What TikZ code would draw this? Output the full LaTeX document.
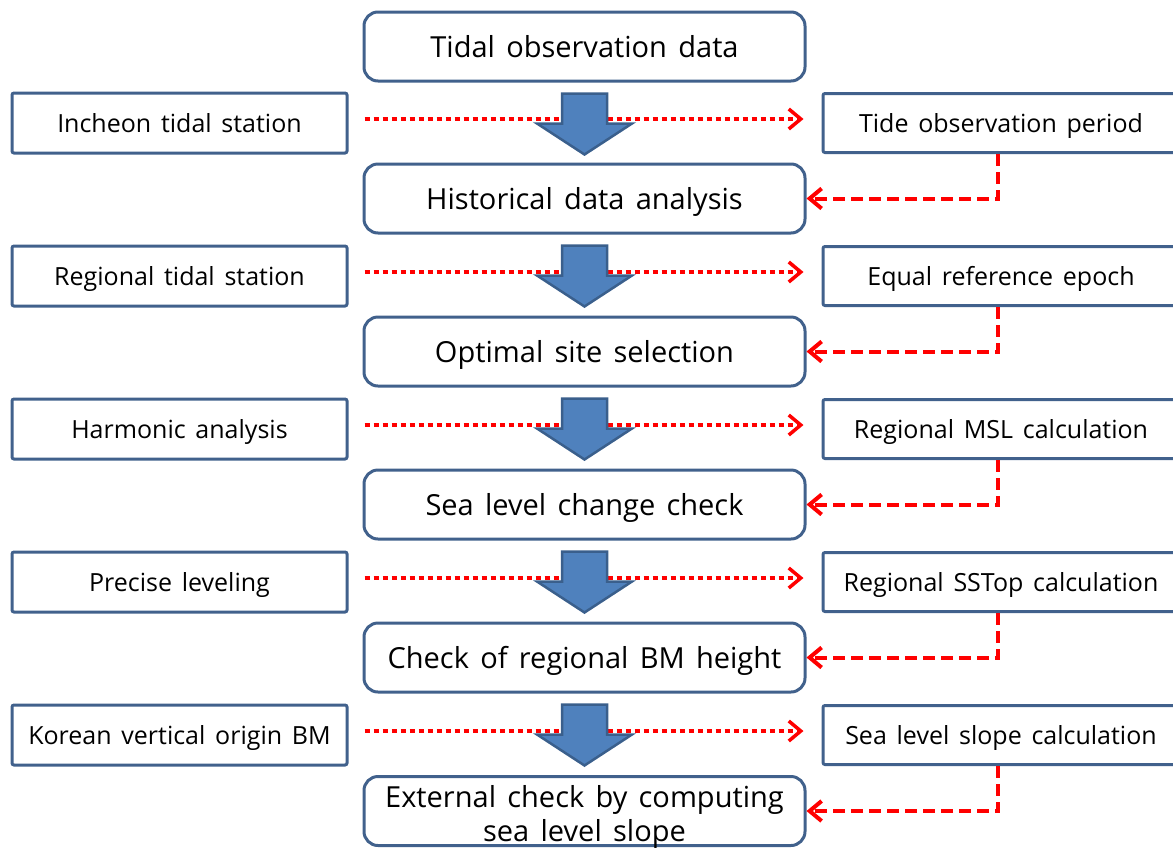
\documentclass[tikz,border=0pt]{standalone}
\usepackage{fontspec}
\setmainfont{Open Sans}[WordSpace=1.5]
\usetikzlibrary{arrows.meta,calc}
\definecolor{boxblue}{HTML}{41618C}
\definecolor{arrowfill}{HTML}{4F81BD}
\definecolor{arrowline}{HTML}{3A5F8C}
\definecolor{linkred}{HTML}{FF0000}
\begin{document}
\begin{tikzpicture}[x=1pt,y=-1pt,
  mainbox/.style={draw=boxblue,line width=3pt,rounded corners=14pt,minimum width=441pt,minimum height=69pt,inner sep=0pt,fill=white,align=center,font=\fontsize{29}{34}\selectfont,text height=22pt,text depth=0pt},
  sidebox/.style={draw=boxblue,line width=3pt,rounded corners=2pt,minimum width=335pt,minimum height=60pt,inner sep=0pt,fill=white,font=\fontsize{25}{28}\selectfont,text height=19pt,text depth=0pt},
  rightbox/.style={sidebox,minimum width=356pt,minimum height=59pt},
  dotlink/.style={draw=linkred,line width=3.5pt,dash pattern=on 5pt off 4pt,-{Straight Barb[length=12pt,width=20pt,line width=3.5pt]}},
  dashlink/.style={draw=linkred,line width=4pt,dash pattern=on 12pt off 6pt,-{Straight Barb[length=12pt,width=20pt,line width=4pt]}},
  blockarrow/.style={fill=arrowfill,draw=arrowline,line width=2.5pt,line join=miter}]
\useasboundingbox (0,0) rectangle (1173,847);
% main column
\node[mainbox] (M1) at (584.5,46.5) {Tidal observation data};
\node[mainbox] (M2) at (584.5,198.5) {Historical data analysis};
\node[mainbox] (M3) at (584.5,351.5) {Optimal site selection};
\node[mainbox] (M4) at (584.5,504.5) {Sea level change check};
\node[mainbox] (M5) at (584.5,657.5) {Check of regional BM height};
\node[mainbox,text height=61pt] (M6) at (584.5,811) {External check by computing\\sea level slope};
% left column
\node[sidebox] (L1) at (179.5,123) {Incheon tidal station};
\node[sidebox] (L2) at (179.5,276) {Regional tidal station};
\node[sidebox] (L3) at (179.5,429) {Harmonic analysis};
\node[sidebox] (L4) at (179.5,582) {Precise leveling};
\node[sidebox] (L5) at (179.5,735) {Korean vertical origin BM};
% right column (cut by the right margin)
\node[rightbox] (R1) at (1001,123) {Tide observation period};
\node[rightbox] (R2) at (1001,276) {Equal reference epoch};
\node[rightbox] (R3) at (1001,429) {Regional MSL calculation};
\node[rightbox] (R4) at (1001,582) {Regional SSTop calculation};
\node[rightbox] (R5) at (1001,735) {Sea level slope calculation};
% dotted links and block arrows
\foreach \i/\a/\b in {1/M1/M2,2/M2/M3,3/M3/M4,4/M4/M5,5/M5/M6}{
  \draw[dotlink] ([shift={(16,-4)}]L\i.east) -- ([shift={(-18,-4)}]R\i.west);
  \draw[blockarrow] ($(\a.south)+(-22.5,11)$) -- ++(45,0) -- ++(0,30) -- ++(25,0)
     -- ($(\a.south)+(0,72)$) -- ($(\a.south)+(-47.5,41)$) -- ++(25,0) -- cycle;
  \draw[dashlink] ([xshift=-3pt]R\i.south) |- (\b.east);
}
\end{tikzpicture}
\end{document}
